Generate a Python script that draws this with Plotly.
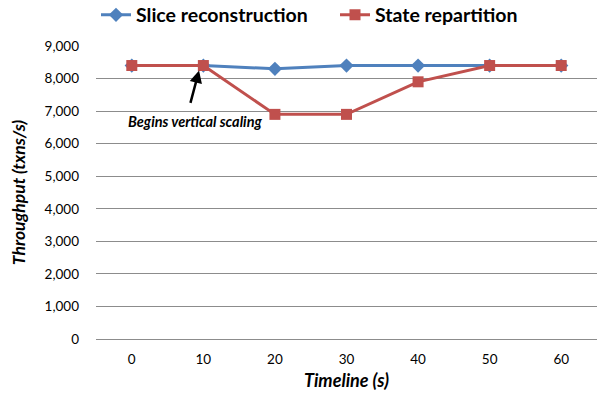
import plotly.graph_objects as go

timeline = ["0", "10", "20", "30", "40", "50", "60"]
slice_reconstruction = [8400, 8400, 8300, 8400, 8400, 8400, 8400]
state_repartition = [8400, 8400, 6900, 6900, 7900, 8400, 8400]
y_ticks = [0, 1000, 2000, 3000, 4000, 5000, 6000, 7000, 8000, 9000]

FONT = "Lato"
BLUE = "#4F81BD"
RED = "#C0504D"
GRID = "#8C8C8C"

fig = go.Figure()
fig.add_trace(go.Scatter(
    x=timeline, y=slice_reconstruction, name="Slice reconstruction",
    mode="lines+markers",
    line=dict(color=BLUE, width=3),
    marker=dict(symbol="diamond", size=11, color=BLUE),
))
fig.add_trace(go.Scatter(
    x=timeline, y=state_repartition, name="State repartition",
    mode="lines+markers",
    line=dict(color=RED, width=3),
    marker=dict(symbol="square", size=11, color=RED),
))

fig.add_annotation(
    x=0.94, y=8250, xref="x", yref="y",
    ax=-9, ay=34, axref="pixel", ayref="pixel",
    showarrow=True, arrowhead=2, arrowsize=1, arrowwidth=2.5, arrowcolor="black",
    text="",
)
fig.add_annotation(
    x=0.89, y=6690, xref="x", yref="y", showarrow=False,
    text="<b><i>Begins vertical scaling</i></b>",
    font=dict(family=FONT, size=14.5, color="black"),
)

fig.update_layout(
    width=597, height=399,
    margin=dict(l=96, r=0, t=46, b=60),
    paper_bgcolor="white", plot_bgcolor="white",
    font=dict(family=FONT, color="black"),
    legend=dict(
        orientation="h", x=0.0, y=0.962, xanchor="left", yanchor="middle",
        yref="container",
        font=dict(family=FONT, size=19.5, color="black", weight="bold"),
        itemwidth=30, entrywidth=194, bgcolor="rgba(0,0,0,0)",
    ),
    xaxis=dict(
        type="category", range=[-0.5, 6.5],
        showgrid=False, showline=True, linecolor=GRID, linewidth=1,
        ticks="", ticklabelstandoff=8, tickfont=dict(family=FONT, size=13.5),
        title=dict(text="<b><i>Timeline (s)</i></b>", font=dict(family=FONT, size=18), standoff=8),
    ),
    yaxis=dict(
        range=[0, 9000], tickvals=y_ticks, tickformat=",d",
        showgrid=True, gridcolor=GRID, gridwidth=1,
        zeroline=False, showline=False,
        ticks="", ticklabelstandoff=16, tickfont=dict(family=FONT, size=13.5),
        title=dict(text="<b><i>Throughput (txns/s)</i></b>", font=dict(family=FONT, size=17.5), standoff=14),
    ),
)

fig.write_html("out.html")
